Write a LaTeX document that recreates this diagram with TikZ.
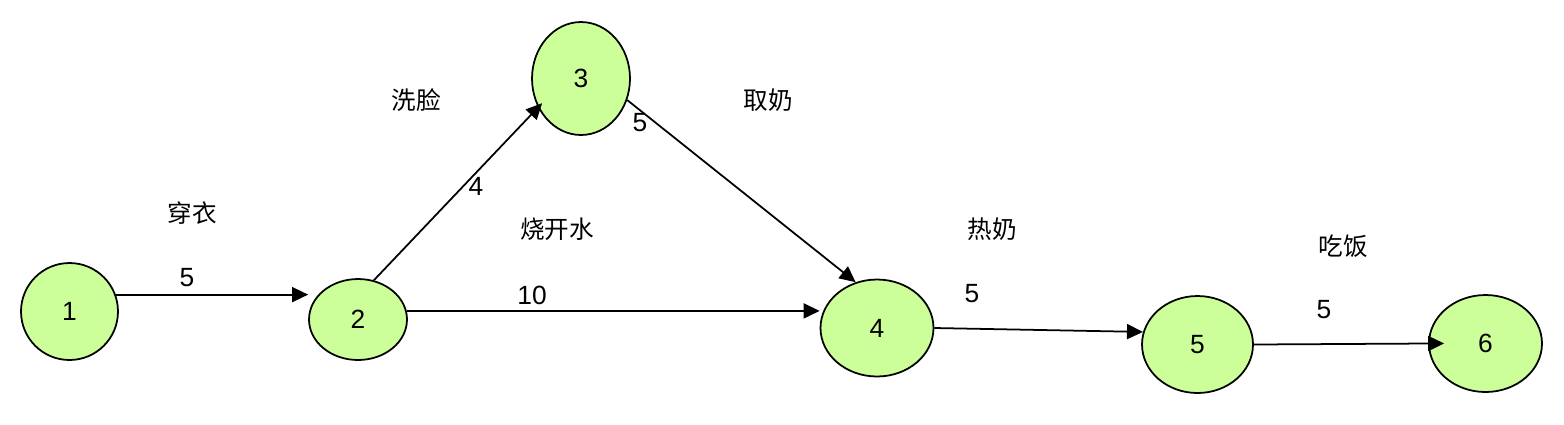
\documentclass[tikz,border=0pt]{standalone}
\usepackage{fontspec}
\setmainfont{Liberation Sans}
\newfontfamily\cjk{Noto Sans CJK SC}
\usetikzlibrary{shapes.geometric,arrows.meta}
\definecolor{evgreen}{HTML}{CCFF99}
\begin{document}
\begin{tikzpicture}[x=0.02cm,y=-0.02cm,
		event/.style={ellipse,draw,line width=1pt,fill=evgreen,inner sep=0pt,font=\fontsize{15}{18}\selectfont},
		act/.style={-{Triangle[length=0.32cm,width=0.3cm]},line width=1pt},
		num/.style={font=\fontsize{15}{18}\selectfont},
		job/.style={font=\cjk\fontsize{14}{17}\selectfont}]
			\path[use as bounding box](0,0)rectangle(1564,424);
			% events
			\node[event,minimum width=1.94cm,minimum height=1.94cm](n1)at(69.5,311.5){1};
			\node[event,minimum width=1.96cm,minimum height=1.62cm](n2)at(358,319.5){2};
			\node[event,minimum width=1.96cm,minimum height=2.26cm](n3)at(581,78.5){3};
			\node[event,minimum width=2.26cm,minimum height=1.94cm](n4)at(877,328){4};
			\node[event,minimum width=2.22cm,minimum height=1.94cm](n5)at(1197.5,344.5){5};
			\node[event,minimum width=2.26cm,minimum height=1.94cm](n6)at(1485.5,343.5){6};
			% activities
			\draw[act](n1.20)--(n2.west|-n1.20);
			\draw[act,shorten >=-0.12cm](n2.68)--(n3.214);
			\draw[act](n2.10)--(n4.west|-n2.10);
			\draw[act](n3.-25)--(n4.115);
			\draw[act](n4.east)--(n5.167);
			\draw[act,shorten >=-0.32cm](n5.east)--(n6.west);
			% durations and names
			\node[num](d12)at(187,278){5};
			\node[job](t12)at(192,213){穿衣};
			\node[num](d23)at(476,186){4};
			\node[job](t23)at(416,100){洗脸};
			\node[num](d24)at(532,295){10};
			\node[job](t24)at(557,229){烧开水};
			\node[num](d34)at(640,123){5};
			\node[job](t34)at(768,100){取奶};
			\node[num](d45)at(972,294){5};
			\node[job](t45)at(992,229){热奶};
			\node[num](d56)at(1324,310){5};
			\node[job](t56)at(1343,246){吃饭};
		\end{tikzpicture}
\end{document}
